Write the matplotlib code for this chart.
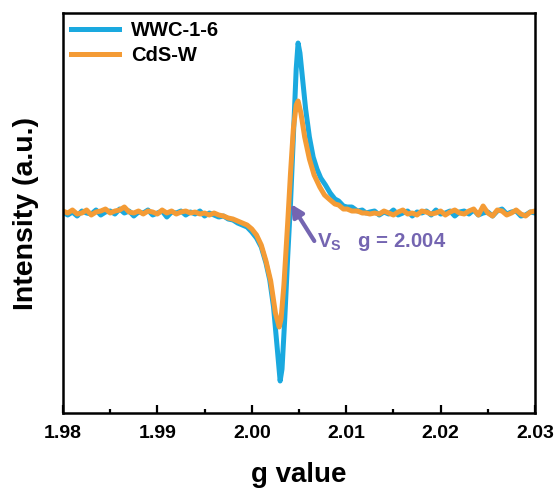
import numpy as np
import matplotlib
matplotlib.use('Agg')
import matplotlib.pyplot as plt

plt.rcParams['font.family'] = ['Liberation Sans', 'DejaVu Sans']
plt.rcParams['font.weight'] = 'bold'
plt.rcParams['mathtext.fontset'] = 'custom'
plt.rcParams['mathtext.bf'] = 'Liberation Sans:bold'
plt.rcParams['mathtext.rm'] = 'Liberation Sans:bold'
plt.rcParams['mathtext.default'] = 'bf'

# baseline grids (shared by both samples)
g_left = [1.9800, 1.9805, 1.9810, 1.9815, 1.9820, 1.9825, 1.9830, 1.9835, 1.9840,
          1.9845, 1.9850, 1.9855, 1.9860, 1.9865, 1.9870, 1.9875, 1.9880, 1.9885,
          1.9890, 1.9895, 1.9900, 1.9905, 1.9910, 1.9915, 1.9920, 1.9925, 1.9930,
          1.9935, 1.9940, 1.9945, 1.9950, 1.9955, 1.9960, 1.9965, 1.9970, 1.9975]
g_right = [2.0130, 2.0135, 2.0140, 2.0145, 2.0150, 2.0155, 2.0160, 2.0165, 2.0170,
           2.0175, 2.0180, 2.0185, 2.0190, 2.0195, 2.0200, 2.0205, 2.0210, 2.0215,
           2.0220, 2.0225, 2.0230, 2.0235, 2.0240, 2.0245, 2.0250, 2.0255, 2.0260,
           2.0265, 2.0270, 2.0275, 2.0280, 2.0285, 2.0290, 2.0295, 2.0300]

# WWC-1-6
wwc_left = [0.005, -0.010, 0.005, -0.015, 0.010, 0.000, -0.005, 0.015, -0.010,
            0.005, 0.010, -0.005, 0.020, 0.000, 0.010, -0.015, 0.005, 0.000,
            0.015, -0.010, 0.000, 0.010, -0.020, 0.005, 0.000, 0.010, -0.010,
            0.005, -0.005, 0.010, -0.015, 0.000, -0.010, -0.020, -0.015, -0.030]
wwc_peak_g = [1.9980, 1.9985, 1.9990, 1.9995, 2.0000, 2.0005, 2.0010, 2.0015, 2.0019,
              2.0023, 2.0027, 2.0030, 2.0032, 2.0035, 2.0038, 2.0041, 2.0044, 2.0047,
              2.0049, 2.0051, 2.0054, 2.0057, 2.0061, 2.0065, 2.0069, 2.0073, 2.0078,
              2.0083, 2.0088, 2.0092, 2.0097, 2.0101, 2.0106, 2.0112, 2.0117, 2.0121,
              2.0125]
wwc_peak = [-0.035, -0.050, -0.060, -0.070, -0.095, -0.125, -0.170, -0.250, -0.335,
            -0.470, -0.680, -0.840, -0.780, -0.520, -0.220, 0.050, 0.380, 0.720,
            0.850, 0.800, 0.660, 0.520, 0.380, 0.280, 0.220, 0.175, 0.140,
            0.100, 0.070, 0.060, 0.035, 0.030, 0.030, 0.010, 0.015, 0.000,
            0.005]
wwc_right = [0.010, -0.010, 0.005, -0.005, 0.015, -0.010, 0.000, 0.010, -0.015,
             0.005, 0.000, 0.010, -0.010, 0.015, -0.005, 0.000, 0.010, -0.015,
             0.005, 0.010, -0.005, 0.015, -0.010, 0.000, 0.005, -0.015, 0.010,
             0.020, -0.005, 0.005, 0.010, -0.015, -0.010, 0.005, 0.000]

# CdS-W
cds_left = [0.010, 0.000, 0.015, -0.005, 0.000, 0.015, -0.010, 0.005, 0.010,
            0.020, 0.000, 0.010, 0.015, 0.030, 0.005, 0.000, 0.010, -0.005,
            0.010, 0.005, -0.005, 0.015, 0.000, 0.010, -0.005, 0.005, 0.010,
            0.000, 0.005, -0.005, 0.000, -0.010, 0.000, -0.010, -0.015, -0.025]
cds_peak_g = [1.9980, 1.9985, 1.9990, 1.9995, 2.0000, 2.0005, 2.0010, 2.0015, 2.0020,
              2.0025, 2.0029, 2.0031, 2.0034, 2.0038, 2.0041, 2.0044, 2.0047, 2.0049,
              2.0052, 2.0056, 2.0061, 2.0066, 2.0072, 2.0077, 2.0083, 2.0088, 2.0092,
              2.0097, 2.0101, 2.0106, 2.0112, 2.0117, 2.0121, 2.0125]
cds_peak = [-0.030, -0.040, -0.050, -0.060, -0.080, -0.110, -0.160, -0.240, -0.340,
            -0.500, -0.570, -0.530, -0.360, -0.050, 0.200, 0.420, 0.540, 0.560,
            0.500, 0.380, 0.270, 0.190, 0.130, 0.090, 0.065, 0.045, 0.040,
            0.020, 0.020, 0.010, 0.010, 0.000, 0.000, -0.005]
cds_right = [0.000, -0.005, 0.010, 0.000, -0.010, 0.005, 0.015, -0.005, 0.000,
             -0.010, 0.010, 0.005, -0.005, 0.000, 0.010, -0.010, 0.005, 0.015,
             0.000, -0.005, 0.010, 0.020, -0.010, 0.035, 0.000, -0.015, 0.015,
             0.010, -0.010, 0.000, 0.015, -0.005, -0.015, 0.005, 0.010]

xticks = [1.98, 1.99, 2.00, 2.01, 2.02, 2.03]
xtick_labels = ['1.98', '1.99', '2.00', '2.01', '2.02', '2.03']
xminor = [1.985, 1.995, 2.005, 2.015, 2.025]

g_wwc = np.array(g_left + wwc_peak_g + g_right)
y_wwc = np.array(wwc_left + wwc_peak + wwc_right)
g_cds = np.array(g_left + cds_peak_g + g_right)
y_cds = np.array(cds_left + cds_peak + cds_right)

fig = plt.figure(figsize=(5.56, 4.88), dpi=100)
ax = fig.add_axes([0.1133, 0.1537, 0.849, 0.8196])

ax.plot(g_wwc, y_wwc, color='#1aa9df', lw=3.6, label='WWC-1-6', solid_joinstyle='round')
ax.plot(g_cds, y_cds, color='#f49b35', lw=3.6, label='CdS-W', solid_joinstyle='round')

ax.set_xlim(1.98, 2.03)
ax.set_ylim(-1.0, 1.0)
ax.set_xticks(xticks)
ax.set_xticklabels(xtick_labels)
ax.set_xticks(xminor, minor=True)
ax.set_yticks([])
ax.tick_params(axis='x', which='major', direction='in', length=6, width=1.6,
               labelsize=14, pad=9)
ax.tick_params(axis='x', which='minor', direction='in', length=3, width=1.6)
for s in ax.spines.values():
    s.set_linewidth(1.8)

ax.set_xlabel('g value', fontsize=20, fontweight='bold', labelpad=14)
ax.set_ylabel('Intensity (a.u.)', fontsize=20.5, fontweight='bold', labelpad=17)

leg = ax.legend(loc='upper left', frameon=False, fontsize=14.5, handlelength=2.4,
                borderaxespad=0.1, handletextpad=0.6, labelspacing=0.3,
                borderpad=0.3)
for t in leg.get_texts():
    t.set_fontweight('bold')

purple = '#7465b1'
ax.annotate('', xy=(2.00415, 0.045), xytext=(2.00662, -0.14),
            arrowprops=dict(arrowstyle='-|>', color=purple, lw=3,
                            mutation_scale=18, shrinkA=0, shrinkB=0))
ax.text(2.0069, -0.145, r'V$_S$   g = 2.004', color=purple, fontsize=14.7,
        fontweight='bold', ha='left', va='center')

fig.savefig('out.png', dpi=100)
